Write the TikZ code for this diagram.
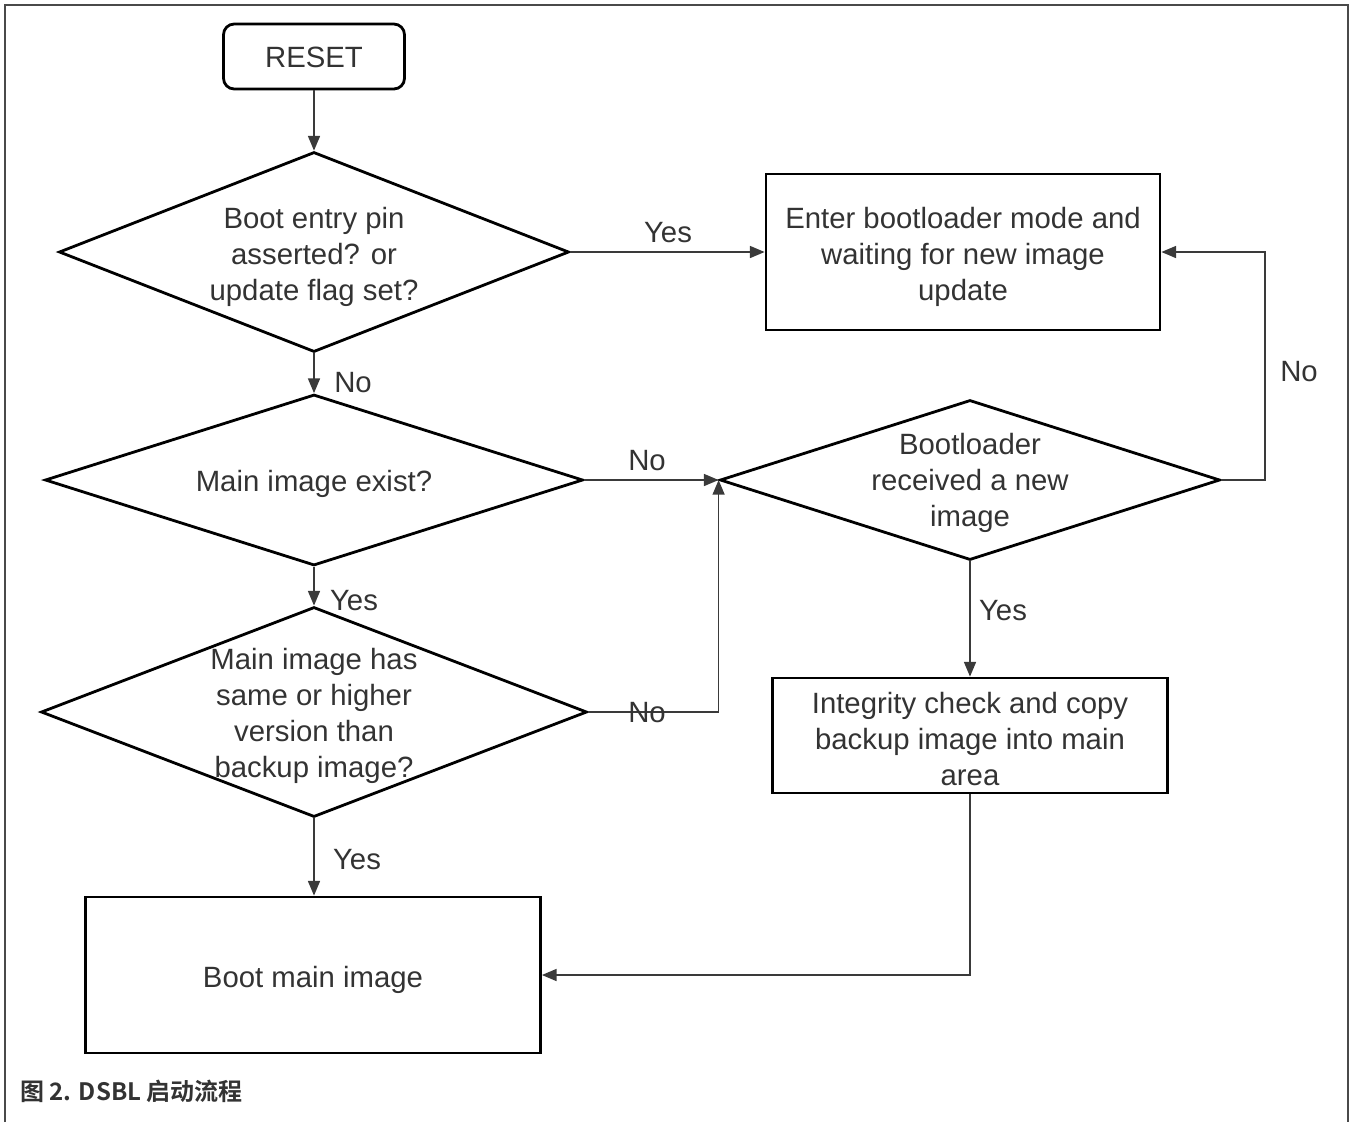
\documentclass[tikz,border=0pt]{standalone}
\usepackage{fontspec}
\setmainfont{Liberation Sans}
\newfontfamily\cjk{Noto Sans CJK SC}[BoldFont={Noto Sans CJK SC Bold}]
\usetikzlibrary{shapes.geometric,arrows.meta}
\definecolor{txt}{HTML}{333333}
\definecolor{ln}{HTML}{3A3A3A}
\definecolor{frame}{HTML}{4A4A4A}
\begin{document}
\begin{tikzpicture}[x=0.75pt,y=-0.75pt,
  every node/.style={text=txt,font=\fontsize{22}{27}\selectfont},
  boxst/.style={draw=black,line width=2.1pt,rectangle,inner sep=0pt},
  decst/.style={draw=black,line width=2.1pt,diamond,inner sep=0pt},
  tx/.style={align=center,inner sep=0pt},
  conn/.style={draw=ln,line width=1.1pt,-{Triangle[length=11pt,width=9pt]}},
  lbl/.style={inner sep=0pt}]
\useasboundingbox (0,0) rectangle (1352,1122);
\draw[frame,line width=2.2pt] (5,1122) -- (5,5) -- (1348,5) -- (1348,1122);

\node[boxst,rounded corners=8pt,minimum width={181*0.75pt},minimum height={65*0.75pt}] (reset) at (314,56.5) {};
\node[decst,minimum width={510*0.75pt},minimum height={200*0.75pt}] (d1) at (314,252) {};
\node[boxst,minimum width={394*0.75pt},minimum height={156*0.75pt}] (b1) at (963,252) {};
\node[decst,minimum width={538*0.75pt},minimum height={171*0.75pt}] (d2) at (314,480) {};
\node[decst,minimum width={500*0.75pt},minimum height={160*0.75pt}] (d3) at (970,480) {};
\node[decst,minimum width={546*0.75pt},minimum height={210*0.75pt}] (d4) at (314,712) {};
\node[boxst,minimum width={395*0.75pt},minimum height={115*0.75pt}] (b2) at (970,735.5) {};
\node[boxst,minimum width={455*0.75pt},minimum height={156*0.75pt}] (b3) at (313,975) {};

\node[tx] (resett) at (314,57) {RESET};
\node[tx] (d1t) at (314,257) {Boot entry pin\\asserted? or\\update flag set?};
\node[tx] (b1t) at (963,257) {Enter bootloader mode and\\waiting for new image\\update};
\node[tx] (d2t) at (314,484) {Main image exist?};
\node[tx] (d3t) at (970,483) {Bootloader\\received a new\\image};
\node[tx] (d4t) at (314,716) {Main image has\\same or higher\\version than\\backup image?};
\node[tx] (b2t) at (970,739) {Integrity check and copy\\backup image into main\\area};
\node[tx] (b3t) at (313,980) {Boot main image};

\coordinate (m1) at (d3.west |- d4.east);
\coordinate (r1) at (1265,480);
\coordinate (r2) at (1265,252);
\coordinate (s1) at (970,975);

\draw[conn] (reset.south) -- (d1.north);
\draw[conn] (d1.east) -- (b1.west);
\draw[conn] (d1.south) -- (d2.north);
\draw[conn] (d2.east) -- (d3.west);
\draw[conn] (d2.south) -- (d4.north);
\draw[conn] (d4.east) -- (m1) -- (d3.west);
\draw[conn] (d3.east) -- (r1) -- (r2) -- (b1.east);
\draw[conn] (d3.south) -- (b2.north);
\draw[conn] (d4.south) -- (d4.south |- b3.north);
\draw[conn] (b2.south) -- (s1) -- (b3.east);

\node[lbl] (l1) at (668,233) {Yes};
\node[lbl] (l2) at (353,383) {No};
\node[lbl] (l3) at (647,461) {No};
\node[lbl] (l4) at (354,601) {Yes};
\node[lbl] (l5) at (647,713) {No};
\node[lbl] (l6) at (1299,372) {No};
\node[lbl] (l7) at (1003,611) {Yes};
\node[lbl] (l8) at (357,860) {Yes};

\node[anchor=west,inner sep=0pt,font=\cjk\bfseries\fontsize{18}{22}\selectfont] (cap) at (20,1091) {图 2. DSBL 启动流程};
\end{tikzpicture}
\end{document}
